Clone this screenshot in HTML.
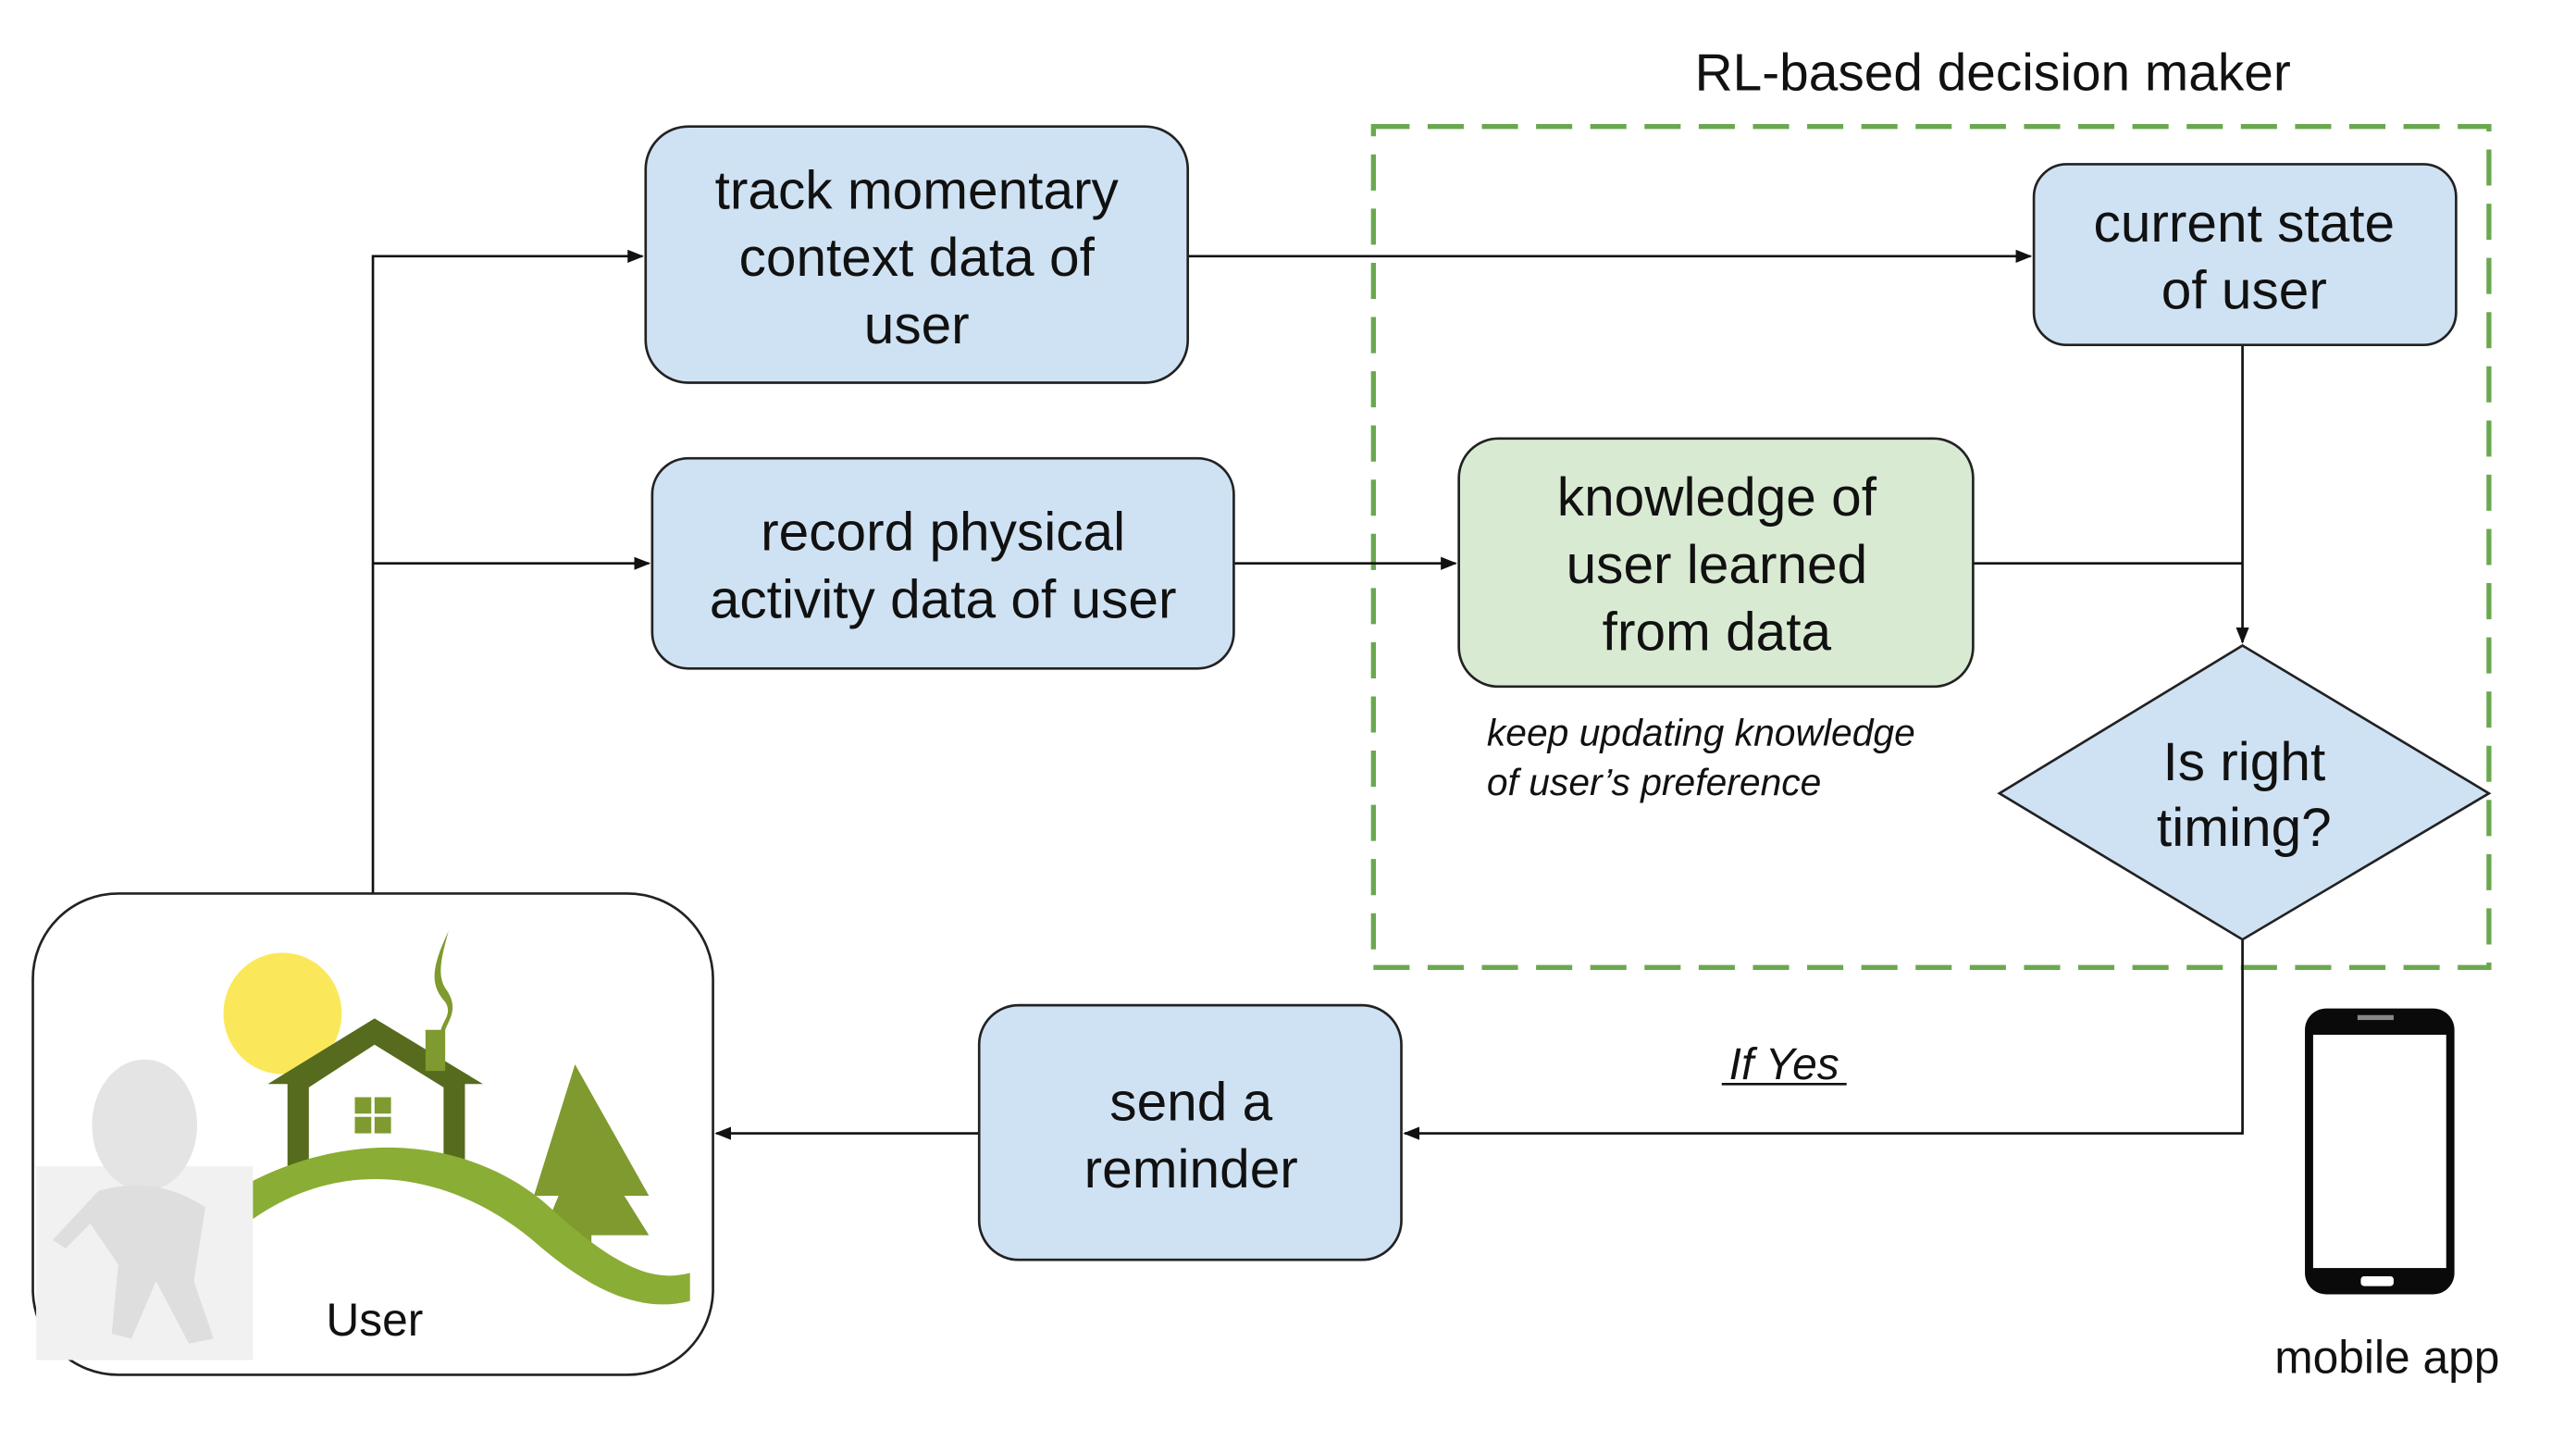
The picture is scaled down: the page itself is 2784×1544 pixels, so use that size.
<!DOCTYPE html>
<html><head><meta charset="utf-8"><style>
html,body{margin:0;padding:0;background:#fff;}
svg{display:block;}
text{font-family:"Liberation Sans",Arial,sans-serif;fill:#111;}
</style></head><body>
<svg width="2784" height="1544" viewBox="0 0 1568 870" preserveAspectRatio="none" xmlns="http://www.w3.org/2000/svg">
<defs>
<marker id="a" markerWidth="10" markerHeight="8" refX="9" refY="4" orient="auto" markerUnits="userSpaceOnUse"><path d="M0,0 L10,4 L0,8 z" fill="#111"/></marker>
</defs>
<rect width="1568" height="870" fill="#fff"/>
<text x="1213" y="55" font-size="32" text-anchor="middle">RL-based decision maker</text>
<rect x="836" y="77" width="679" height="512" fill="none" stroke="#6aa84f" stroke-width="3" stroke-dasharray="22,11"/>

<g stroke="#111" stroke-width="1.5" fill="none">
<path d="M227,544 V156 H391" marker-end="url(#a)"/>
<path d="M227,343 H395" marker-end="url(#a)"/>
<path d="M723,156 H1236" marker-end="url(#a)"/>
<path d="M751,343 H886" marker-end="url(#a)"/>
<path d="M1201,343 H1365"/>
<path d="M1365,210 V391" marker-end="url(#a)"/>
<path d="M1365,572 V690 H855" marker-end="url(#a)"/>
<path d="M596,690 H436" marker-end="url(#a)"/>
</g>

<g stroke="#222" stroke-width="1.5">
<rect x="393" y="77" width="330" height="156" rx="26" fill="#cfe2f3"/>
<rect x="397" y="279" width="354" height="128" rx="22" fill="#cfe2f3"/>
<rect x="888" y="267" width="313" height="151" rx="24" fill="#d9ead3"/>
<rect x="1238" y="100" width="257" height="110" rx="20" fill="#cfe2f3"/>
<polygon points="1365,393 1515,483 1365,572 1217,483" fill="#cfe2f3"/>
<rect x="596" y="612" width="257" height="155" rx="24" fill="#cfe2f3"/>
<rect x="20" y="544" width="414" height="293" rx="52" fill="#fff"/>
</g>

<g font-size="33" text-anchor="middle" dominant-baseline="central">
<text x="558" y="116">track momentary</text>
<text x="558" y="157">context data of</text>
<text x="558" y="198">user</text>
<text x="574" y="324">record physical</text>
<text x="574" y="365">activity data of user</text>
<text x="1045" y="303">knowledge of</text>
<text x="1045" y="344">user learned</text>
<text x="1045" y="385">from data</text>
<text x="1366" y="136">current state</text>
<text x="1366" y="177">of user</text>
<text x="1366" y="464">Is right</text>
<text x="1366" y="504">timing?</text>
<text x="725" y="671">send a</text>
<text x="725" y="712">reminder</text>
</g>
<text x="905" y="454" font-size="23" font-style="italic">keep updating knowledge</text>
<text x="905" y="484" font-size="23" font-style="italic">of user’s preference</text>
<text x="1086" y="657" font-size="27" font-style="italic" text-anchor="middle">If Yes</text>
<line x1="1048" y1="660" x2="1124" y2="660" stroke="#111" stroke-width="1.5"/>

<ellipse cx="172" cy="617" rx="36" ry="37" fill="#fbe85a"/>
<path d="M228,620 L163,660 L175,660 L175,718 L188,718 L188,662 L228,636 L270,662 L270,716 L283,716 L283,660 L294,660 Z" fill="#566b1e"/>
<rect x="259" y="627" width="12" height="25" fill="#7f9a2e"/>
<path d="M273,567 C262,590 262,600 271,610 C276,618 268,622 268,630 L270,630 C272,622 280,615 272,603 C266,595 268,585 273,567Z" fill="#7f9a2e"/>
<rect x="216" y="668" width="22" height="22" fill="#7f9a2e"/>
<line x1="227" y1="668" x2="227" y2="690" stroke="#fff" stroke-width="2"/>
<line x1="216" y1="679" x2="238" y2="679" stroke="#fff" stroke-width="2"/>
<path d="M350,648 L395,728 L380,728 L395,752 L330,752 L340,728 L325,728 Z" fill="#7f9a2e"/>
<rect x="350" y="740" width="10" height="30" fill="#7f9a2e"/>
<path d="M120,740 C200,680 290,690 340,740 C380,775 400,780 420,775 L420,792 C390,800 360,785 330,760 C280,715 210,700 150,745 Z" fill="#8aad35"/>
<rect x="22" y="710" width="132" height="118" fill="#f1f1f1"/>
<ellipse cx="88" cy="685" rx="32" ry="40" fill="#e4e4e4"/>
<path d="M60,725 Q95,715 125,735 L118,780 L130,815 L115,818 L95,780 L80,815 L68,812 L72,770 L55,745 L40,760 L32,755 Z" fill="#dedede"/>
<text x="228" y="813" font-size="28" text-anchor="middle">User</text>

<rect x="1403" y="614" width="91" height="174" rx="13" fill="#0a0a0a"/>
<rect x="1408" y="630" width="81" height="142" fill="#fff"/>
<rect x="1435" y="618" width="22" height="3" fill="#888"/>
<rect x="1437" y="777" width="20" height="6" rx="2" fill="#fff"/>
<text x="1453" y="836" font-size="28" text-anchor="middle">mobile app</text>
</svg>
</body></html>
